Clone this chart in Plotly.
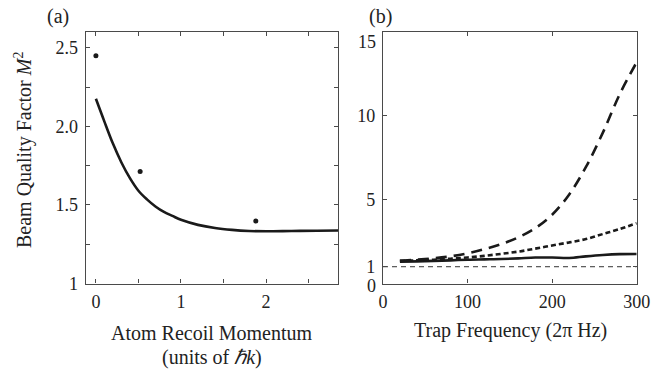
import plotly.graph_objects as go

# Panel (a) data
pts_x = [0.0, 0.52, 1.88]
pts_y = [2.449, 1.712, 1.397]
fit_x = [0.0, 0.1, 0.2, 0.3, 0.4, 0.5, 0.6, 0.7, 0.8, 0.9, 1.0, 1.2, 1.4, 1.6, 1.8, 2.0, 2.3, 2.6, 2.85]
fit_y = [2.175, 2.03, 1.89, 1.77, 1.67, 1.59, 1.535, 1.49, 1.455, 1.43, 1.405, 1.373, 1.353, 1.341, 1.334, 1.332, 1.334, 1.336, 1.337]
a_xticks = [0, 0.5, 1, 1.5, 2, 2.5]
a_xlabels = ["0", " ", "1", " ", "2", " "]
a_yticks = [1, 1.25, 1.5, 1.75, 2, 2.25, 2.5]
a_ylabels = ["1", " ", "1.5", " ", "2.0", " ", "2.5"]

# Panel (b) data
freq = [20, 40, 60, 80, 100, 120, 140, 160, 180, 200, 220, 240, 260, 280, 300]
long_dash = [1.35, 1.42, 1.5, 1.62, 1.8, 2.05, 2.35, 2.75, 3.3, 4.1, 5.3, 6.95, 9.0, 11.3, 13.2]
short_dash = [1.35, 1.38, 1.42, 1.48, 1.55, 1.65, 1.77, 1.9, 2.08, 2.27, 2.45, 2.65, 2.95, 3.25, 3.6]
solid = [1.3, 1.32, 1.35, 1.38, 1.42, 1.44, 1.46, 1.5, 1.55, 1.55, 1.52, 1.62, 1.7, 1.75, 1.76]
ref_x = [0, 300]
ref_y = [1, 1]
b_xticks = [0, 100, 200, 300]
b_yticks = [0, 1, 5, 10, 15]
b_ylabels = [" ", "1", "5", "10", " "]

FONT = "Liberation Serif"
INK = "#1a1a1a"
FRAME = "#4a4a4a"
W, H = 663, 369

fig = go.Figure()
fig.add_trace(go.Scatter(x=fit_x, y=fit_y, mode="lines", line=dict(color=INK, width=2.6, shape="spline"),
                         xaxis="x", yaxis="y", showlegend=False))
fig.add_trace(go.Scatter(x=pts_x, y=pts_y, mode="markers", marker=dict(color=INK, size=5),
                         xaxis="x", yaxis="y", showlegend=False))
fig.add_trace(go.Scatter(x=ref_x, y=ref_y, mode="lines", line=dict(color="#333", width=1, dash="5px,4px"),
                         xaxis="x2", yaxis="y2", showlegend=False))
fig.add_trace(go.Scatter(x=freq, y=solid, mode="lines", line=dict(color=INK, width=2.6, shape="spline"),
                         xaxis="x2", yaxis="y2", showlegend=False))
fig.add_trace(go.Scatter(x=freq, y=short_dash, mode="lines", line=dict(color=INK, width=2.6, dash="5px,3px", shape="spline"),
                         xaxis="x2", yaxis="y2", showlegend=False))
fig.add_trace(go.Scatter(x=freq, y=long_dash, mode="lines", line=dict(color=INK, width=2.6, dash="11px,7px", shape="spline"),
                         xaxis="x2", yaxis="y2", showlegend=False))

ytop = 1 - 32 / H
ybot = 1 - 283.5 / H
axcommon = dict(showline=True, linecolor=FRAME, linewidth=1.3, mirror="ticks", ticks="inside", ticklen=4,
                tickcolor=FRAME, tickwidth=1, showgrid=False, zeroline=False,
                tickfont=dict(family=FONT, size=18, color="#222"), fixedrange=True)

fig.update_layout(
    width=W, height=H, margin=dict(l=0, r=0, t=0, b=0, autoexpand=False),
    paper_bgcolor="white", plot_bgcolor="white",
    xaxis=dict(domain=[85.7 / W, 338.3 / W], range=[-0.12, 2.85], anchor="y", ticklabelstandoff=2,
               tickvals=a_xticks, ticktext=a_xlabels, **axcommon),
    yaxis=dict(domain=[ybot, ytop], range=[1, 2.6], anchor="x", ticklabelstandoff=3,
               tickvals=a_yticks, ticktext=a_ylabels, **axcommon),
    xaxis2=dict(domain=[383 / W, 636.7 / W], range=[0, 300], anchor="y2", ticklabelstandoff=2,
                tickvals=b_xticks, **axcommon),
    yaxis2=dict(domain=[ybot, ytop], range=[0, 15], anchor="x2", ticklabelstandoff=3,
                tickvals=b_yticks, ticktext=b_ylabels, **axcommon),
)

tf = dict(family=FONT, size=20, color="#222")
ann = [
    dict(text="(a)", x=58 / W, y=1 - 16 / H),
    dict(text="(b)", x=381 / W, y=1 - 16 / H),
    dict(text="Beam Quality Factor <i>M</i><sup>2</sup>", x=23 / W, y=1 - 150 / H, textangle=-90),
    dict(text="Atom Recoil Momentum", x=212 / W, y=1 - 333 / H),
    dict(text="(units of <i>ℏk</i>)", x=212 / W, y=1 - 357 / H),
    dict(text="Trap Frequency (2π Hz)", x=510 / W, y=1 - 330 / H),
]
for a in ann:
    fig.add_annotation(xref="paper", yref="paper", showarrow=False, font=tf,
                       xanchor="center", yanchor="middle", **a)
# top and bottom y tick labels of panel (b), offset as in the reference
for txt, ypix in [("15", 42), ("0", 286)]:
    fig.add_annotation(xref="paper", yref="paper", showarrow=False, text=txt,
                       font=dict(family=FONT, size=18, color="#222"),
                       x=378 / W, y=1 - ypix / H, xanchor="right", yanchor="middle")

fig.write_html("out.html", config={"displayModeBar": False},
               post_script="document.body.style.margin='0px';document.body.style.overflow='hidden';")
